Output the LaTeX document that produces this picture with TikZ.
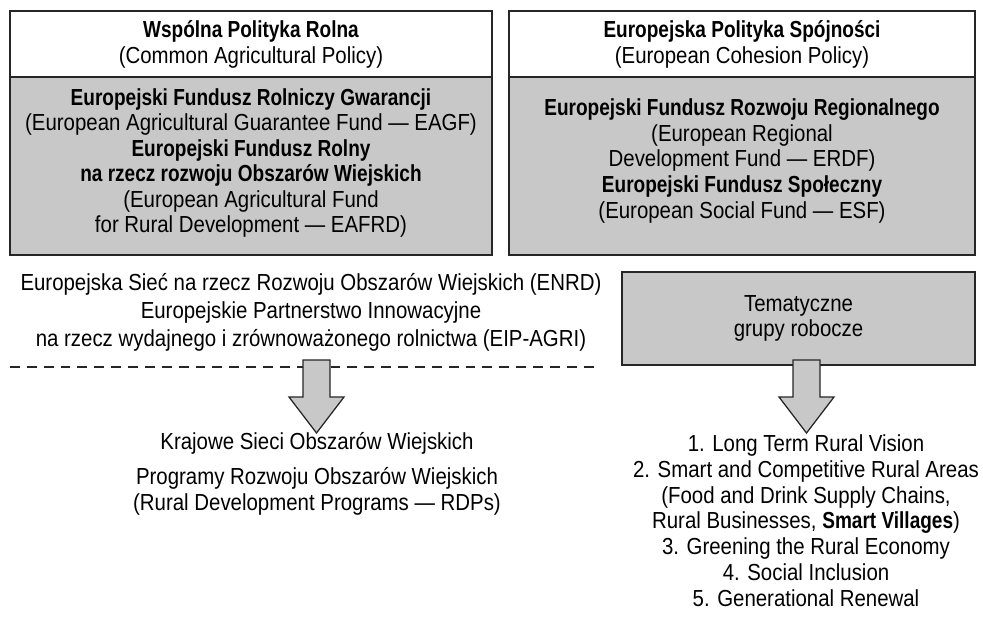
\documentclass[tikz,border=0pt]{standalone}
\usepackage{fontspec}
\setmainfont{Liberation Sans}[FakeStretch=0.88,BoldFeatures={FakeStretch=0.82}]
\definecolor{boxgray}{RGB}{200,200,200}
\tikzset{
    panel/.style={draw=black!85, line width=0.9pt},
    txt/.style={align=center, inner sep=0pt, font=\fontsize{16.5}{18.2}\selectfont},
    blockarrow/.style={draw=black!85, line width=0.9pt, fill=boxgray, line join=miter},
    sepline/.style={draw=black!85, line width=0.8pt, dash pattern=on 7pt off 5pt},
}
\begin{document}
\begin{tikzpicture}[x=0.025cm,y=-0.025cm]

    \useasboundingbox (0,0) rectangle (983,617);

    % policy panels
    \draw [panel,fill=boxgray] (10,77) rectangle (492,255);
    \draw [panel] (10,11) rectangle (492,255);
    \draw [panel,fill=boxgray] (509,77) rectangle (975,255);
    \draw [panel] (509,11) rectangle (975,255);

    \node [txt] (cap) at (251,44.5) {\textbf{Wspólna Polityka Rolna}\\(Common Agricultural Policy)};
    \node [txt] (eafrd) at (251,163) {\textbf{Europejski Fundusz Rolniczy Gwarancji}\\(European Agricultural Guarantee Fund — EAGF)\\\textbf{Europejski Fundusz Rolny}\\\textbf{na rzecz rozwoju Obszarów Wiejskich}\\(European Agricultural Fund\\for Rural Development — EAFRD)};

    \node [txt] (ecp) at (742,44.5) {\textbf{Europejska Polityka Spójności}\\(European Cohesion Policy)};
    \node [txt] (erdf) at (742,161) {\textbf{Europejski Fundusz Rozwoju Regionalnego}\\(European Regional\\Development Fund — ERDF)\\\textbf{Europejski Fundusz Społeczny}\\(European Social Fund — ESF)};

    % networks
    \node [txt,font=\fontsize{16.5}{19.9}\selectfont] (enrd) at (311,312) {Europejska Sieć na rzecz Rozwoju Obszarów Wiejskich (ENRD)\\Europejskie Partnerstwo Innowacyjne\\na rzecz wydajnego i zrównoważonego rolnictwa (EIP-AGRI)};
    \node [panel,fill=boxgray,txt,minimum width=8.825cm,minimum height=2.325cm] (groups) at (798.5,318.5) {Tematyczne\\grupy robocze};

    \coordinate (sepL) at (10,367);
    \coordinate (sepR) at (600,367);
    \draw [sepline] (sepL)--(sepR);

    % block arrows
    \coordinate (la) at (316.5,360);
    \coordinate (ra) at (806.5,360);
    \foreach \p in {la,ra}{
        \draw [blockarrow] (\p) ++(-13.5,0) --++(27,0) --++(0,37) --++(14,0) --++(-27.5,36) --++(-27.5,-36) --++(14,0) -- cycle;
    }

    % outputs
    \node [txt] (ksow) at (317,443) {Krajowe Sieci Obszarów Wiejskich};
    \node [txt] (rdp) at (317,491.5) {Programy Rozwoju Obszarów Wiejskich\\(Rural Development Programs — RDPs)};
    \node [txt,font=\fontsize{16.5}{18.3}\selectfont] (themes) at (806,520.5) {1. Long Term Rural Vision\\2. Smart and Competitive Rural Areas\\(Food and Drink Supply Chains,\\Rural Businesses, \textbf{Smart Villages})\\3. Greening the Rural Economy\\4. Social Inclusion\\5. Generational Renewal};

\end{tikzpicture}
\end{document}
